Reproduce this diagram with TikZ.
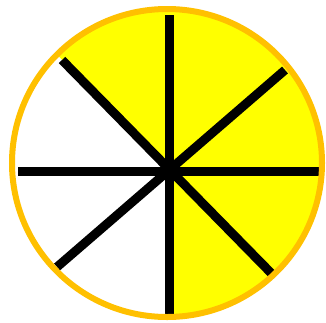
\documentclass[tikz,border=0pt]{standalone}
\definecolor{rimorange}{RGB}{255,192,0}
\definecolor{sectoryellow}{RGB}{255,255,0}
\tikzset{
  spoke/.style={draw=black, line width=9pt, line cap=butt},
  rim/.style={draw=rimorange, line width=6pt}
}
\begin{document}
\begin{tikzpicture}[x=1pt,y=-1pt]
\useasboundingbox (0,0) rectangle (326,322);
\coordinate (c) at (169.5,170.5);
\coordinate (top) at (169.5,15);
\coordinate (bot) at (169.5,318);
\coordinate (lft) at (18,171);
\coordinate (rgt) at (321,171);
\coordinate (ul) at (62,60);
\coordinate (lr) at (273,275);
\coordinate (ur) at (285,70);
\coordinate (ll) at (57,267);
\begin{scope}
  \clip (167,163) ellipse [x radius=155pt, y radius=154pt];
  \fill[sectoryellow] (0,0) rectangle (326,322);
  \fill[white] (c) -- (169.5,340) -- (-10,340) -- (-10,-14) -- cycle;
\end{scope}
\draw[spoke] (top) -- (bot);
\draw[spoke] (lft) -- (rgt);
\draw[spoke] (ul) -- (lr);
\draw[spoke] (ur) -- (ll);
\draw[rim] (167,163) ellipse [x radius=155pt, y radius=154pt];
\end{tikzpicture}
\end{document}
